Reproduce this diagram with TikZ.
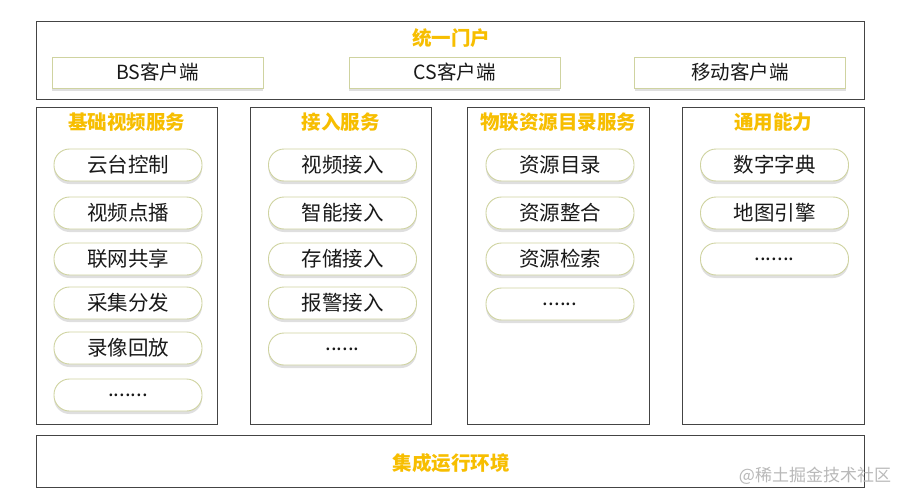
\documentclass[tikz,border=0pt]{standalone}
\usepackage{fontspec}
\setmainfont{Noto Sans CJK SC}
\usetikzlibrary{shadows}
\definecolor{gold}{HTML}{F7BE00}
\definecolor{olive}{HTML}{CFD3A0}
\definecolor{frame}{HTML}{444444}
\tikzset{
  outer/.style={draw=frame,line width=1pt,fill=white},
  title/.style={text=gold,font=\fontsize{19.5}{19.5}\selectfont\bfseries},
  client/.style={draw=olive,line width=0.9pt,fill=white,minimum width=211pt,minimum height=31pt,
     drop shadow={shadow xshift=0pt,shadow yshift=-3pt,opacity=0.25,fill=gray},
     text=black!90,font=\fontsize{19.5}{19.5}\selectfont},
  pill/.style={draw=olive,line width=0.9pt,fill=white,rounded corners=15.5pt,minimum width=148pt,minimum height=32pt,
     drop shadow={shadow xshift=0pt,shadow yshift=-3pt,opacity=0.25,fill=gray},
     text=black!90,font=\fontsize{20.5}{20.5}\selectfont},
}
\begin{document}
\begin{tikzpicture}[x=1pt,y=-1pt]
\useasboundingbox (0,0) rectangle (902,495);
% top
\draw[outer] (36,22) rectangle (864,99);
\node[title] (portal) at (451,38) {统一门户};
\node[client] (bs) at (157.5,72.5) {BS客户端};
\node[client] (cs) at (454.5,72.5) {CS客户端};
\node[client] (mob) at (740,72.5) {移动客户端};
% columns
\draw[outer] (36,107) rectangle (217,424);
\draw[outer] (250,107) rectangle (431,424);
\draw[outer] (467,107) rectangle (649,424);
\draw[outer] (682,107) rectangle (864,424);
\node[title] (t1) at (126.5,122) {基础视频服务};
\node[title] (t2) at (340.5,122) {接入服务};
\node[title] (t3) at (558,122) {物联资源目录服务};
\node[title] (t4) at (773,122) {通用能力};
% column 1
\node[pill] (a1) at (128,165) {云台控制};
\node[pill] (a2) at (128,213) {视频点播};
\node[pill] (a3) at (128,259) {联网共享};
\node[pill] (a4) at (128,303) {采集分发};
\node[pill] (a5) at (128,348) {录像回放};
\node[pill] (a6) at (128,395) {.......};
% column 2
\node[pill] (b1) at (342.5,165) {视频接入};
\node[pill] (b2) at (342.5,213) {智能接入};
\node[pill] (b3) at (342.5,259) {存储接入};
\node[pill] (b4) at (342.5,303) {报警接入};
\node[pill] (b5) at (342.5,349) {......};
% column 3
\node[pill] (c1) at (560,165) {资源目录};
\node[pill] (c2) at (560,213) {资源整合};
\node[pill] (c3) at (560,259) {资源检索};
\node[pill] (c4) at (560,304) {......};
% column 4
\node[pill] (d1) at (774.5,165) {数字字典};
\node[pill] (d2) at (774.5,213) {地图引擎};
\node[pill] (d3) at (774.5,259) {.......};
% bottom
\draw[outer] (36,435) rectangle (864,487);
\node[title] (env) at (451,463) {集成运行环境};
\node[text=gray!55,font=\fontsize{17}{17}\selectfont] (wm) at (815,476) {@稀土掘金技术社区};
\end{tikzpicture}
\end{document}
